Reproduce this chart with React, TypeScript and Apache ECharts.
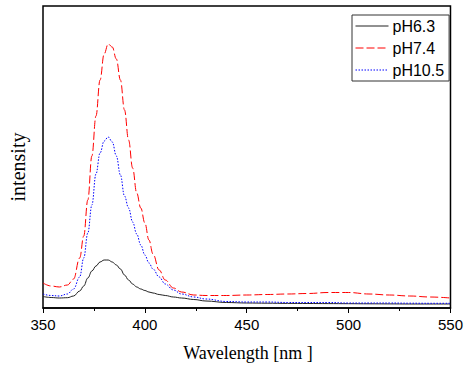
import React, { useEffect, useRef } from "react";
import * as echarts from "echarts";

const wavelengths = [350, 354, 358, 362, 365, 368, 370, 372, 374, 376, 378, 380, 382, 384, 386, 388, 390, 392, 394, 396, 398, 400, 402, 404, 407, 410, 414, 418, 424, 430, 440, 450, 460, 470, 480, 490, 500, 510, 520, 530, 540, 550];

const pH63 = [11.5, 10.5, 10, 10.3, 12, 17, 22, 30, 37, 42, 46, 48, 48, 46, 43, 39, 33, 28, 24, 21, 19, 17.5, 16, 15, 13.5, 12.5, 11, 10, 8.5, 7, 5.5, 5, 4.8, 4.6, 4.5, 4.4, 4.3, 4.2, 4.1, 4, 4, 4];
const pH74 = [25, 22, 21, 23, 29, 50, 72, 108, 152, 192, 228, 254, 264, 261, 249, 228, 198, 168, 140, 115, 100, 85, 68, 54, 38, 28, 20, 16, 13, 12.5, 12.5, 13, 13.5, 14, 14.5, 15.5, 15.5, 14, 13, 12, 11, 10];
const pH105 = [14, 12.5, 12, 14, 19, 31, 50, 75, 103, 134, 155, 167, 171, 166, 152, 133, 112, 100, 86, 74, 63, 53, 45, 39, 31, 24, 18, 14, 11, 9, 6.5, 6, 6, 5.5, 5.5, 5.5, 5, 5, 5, 4.8, 4.7, 4.7];

const seriesNames = ["pH6.3", "pH7.4", "pH10.5"];
const xTicks = { min: 350, max: 550, interval: 50 };

function pairs(ys: number[]) {
  return wavelengths.map((x, i) => [x, ys[i]]);
}

export default function App() {
  const ref = useRef<HTMLDivElement>(null);
  useEffect(() => {
    if (!ref.current) return;
    const chart = echarts.init(ref.current, null, { renderer: "svg" });
    chart.setOption({
      animation: false,
      backgroundColor: "#fff",
      grid: {
        left: 43,
        right: 13,
        top: 6,
        bottom: 59,
        show: true,
        borderColor: "#000",
        borderWidth: 1.5,
        backgroundColor: "transparent",
      },
      legend: {
        orient: "vertical",
        left: 352,
        top: 15,
        padding: [3, 5, 3, 3],
        borderColor: "#333",
        borderWidth: 1,
        itemWidth: 33,
        itemHeight: 14,
        itemGap: 6,
        itemStyle: { opacity: 0 },
        lineStyle: { width: 1 },
        textStyle: { fontFamily: "Liberation Sans", fontSize: 16, color: "#000", padding: [0, 0, 0, -1] },
        data: seriesNames,
      },
      xAxis: {
        type: "value",
        min: xTicks.min,
        max: xTicks.max,
        interval: xTicks.interval,
        axisLine: { show: true, lineStyle: { color: "#000", width: 1.5 } },
        axisTick: { show: true, inside: false, length: 5, lineStyle: { color: "#000", width: 1 } },
        minorTick: { show: true, splitNumber: 2, length: 3, lineStyle: { color: "#000", width: 1 } },
        splitLine: { show: false },
        axisLabel: { fontFamily: "Liberation Sans", fontSize: 15, color: "#000", margin: 9 },
      },
      yAxis: {
        type: "value",
        min: 0,
        max: 302,
        axisLine: { show: false },
        axisTick: { show: false },
        axisLabel: { show: false },
        splitLine: { show: false },
      },
      graphic: [
        {
          type: "text",
          x: 248,
          y: 353,
          style: {
            text: "Wavelength [nm ]",
            font: '18px "Liberation Serif"',
            fill: "#000",
            align: "center",
            verticalAlign: "middle",
          },
        },
        {
          type: "text",
          x: 17.5,
          y: 167,
          rotation: Math.PI / 2,
          style: {
            text: "intensity",
            font: '20px "Liberation Serif"',
            fill: "#000",
            align: "center",
            verticalAlign: "middle",
          },
        },
      ],
      series: [
        {
          name: seriesNames[0],
          type: "line",
          data: pairs(pH63),
          showSymbol: false,
          symbol: "none",
          smooth: 0.4,
          smoothMonotone: "x",
          lineStyle: { color: "#222", width: 1, type: "solid" },
          itemStyle: { color: "#222" },
        },
        {
          name: seriesNames[1],
          type: "line",
          data: pairs(pH74),
          showSymbol: false,
          symbol: "none",
          smooth: 0.4,
          smoothMonotone: "x",
          lineStyle: { color: "#ff0000", width: 1, type: [8, 3] },
          itemStyle: { color: "#ff0000" },
        },
        {
          name: seriesNames[2],
          type: "line",
          data: pairs(pH105),
          showSymbol: false,
          symbol: "none",
          smooth: 0.4,
          smoothMonotone: "x",
          lineStyle: { color: "#0000ff", width: 1, type: [1.5, 1.5] },
          itemStyle: { color: "#0000ff" },
        },
      ],
    });
    return () => chart.dispose();
  }, []);
  return (
    <div
      ref={ref}
      style={{ position: "fixed", left: 0, top: 0, width: 466, height: 367, background: "#fff" }}
    />
  );
}
